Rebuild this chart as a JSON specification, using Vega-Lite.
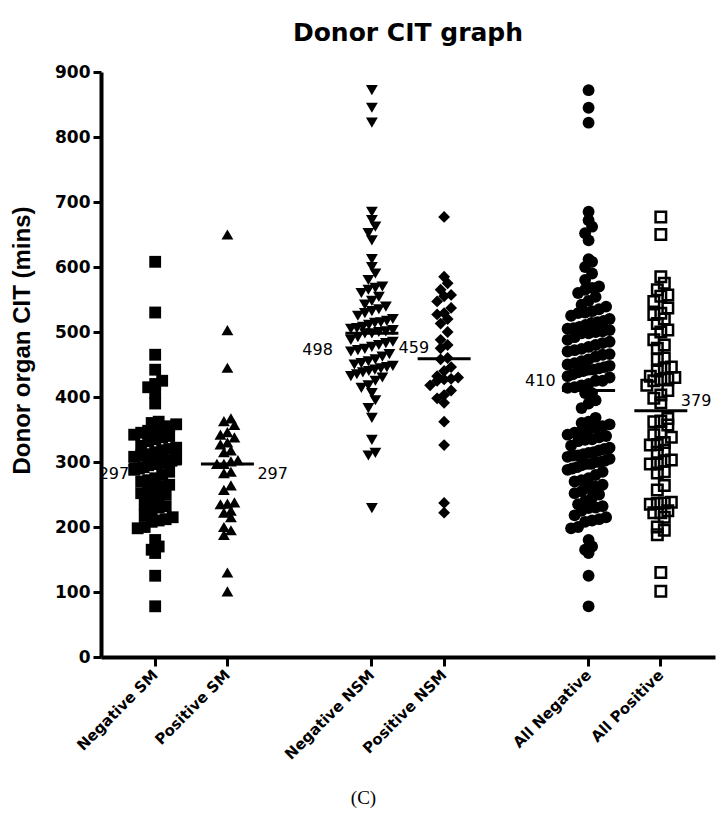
{
  "$schema": "https://vega.github.io/schema/vega-lite/v6.json",
  "width": 614,
  "height": 585,
  "autosize": "none",
  "padding": {"left": 101, "top": 72, "right": 12, "bottom": 180},
  "background": "white",
  "config": {"view": {"stroke": null}, "axis": {"grid": false}},
  "title": {"text": "Donor CIT graph", "font": "DejaVu Sans", "fontSize": 25, "fontWeight": "bold", "anchor": "middle", "offset": 17, "color": "black"},
  "datasets": {
    "pts": [
      {"g":"Negative SM","v":608},{"g":"Negative SM","v":530},{"g":"Negative SM","v":465},{"g":"Negative SM","v":442},{"g":"Negative SM","v":425},{"g":"Negative SM","v":420},{"g":"Negative SM","v":415},{"g":"Negative SM","v":406},{"g":"Negative SM","v":390},
      {"g":"Negative SM","v":362},{"g":"Negative SM","v":360},{"g":"Negative SM","v":358},{"g":"Negative SM","v":355},{"g":"Negative SM","v":352},{"g":"Negative SM","v":350},{"g":"Negative SM","v":348},{"g":"Negative SM","v":345},
      {"g":"Negative SM","v":342},{"g":"Negative SM","v":340},{"g":"Negative SM","v":338},{"g":"Negative SM","v":335},{"g":"Negative SM","v":332},
      {"g":"Negative SM","v":325},{"g":"Negative SM","v":322},{"g":"Negative SM","v":320},{"g":"Negative SM","v":318},{"g":"Negative SM","v":315},{"g":"Negative SM","v":312},
      {"g":"Negative SM","v":310},{"g":"Negative SM","v":308},{"g":"Negative SM","v":305},{"g":"Negative SM","v":302},{"g":"Negative SM","v":300},{"g":"Negative SM","v":300},{"g":"Negative SM","v":297},
      {"g":"Negative SM","v":297},{"g":"Negative SM","v":295},{"g":"Negative SM","v":292},{"g":"Negative SM","v":290},{"g":"Negative SM","v":288},{"g":"Negative SM","v":285},{"g":"Negative SM","v":280},
      {"g":"Negative SM","v":275},{"g":"Negative SM","v":272},{"g":"Negative SM","v":270},{"g":"Negative SM","v":265},{"g":"Negative SM","v":262},{"g":"Negative SM","v":260},
      {"g":"Negative SM","v":255},{"g":"Negative SM","v":252},{"g":"Negative SM","v":250},{"g":"Negative SM","v":245},
      {"g":"Negative SM","v":240},{"g":"Negative SM","v":235},{"g":"Negative SM","v":232},{"g":"Negative SM","v":230},{"g":"Negative SM","v":225},
      {"g":"Negative SM","v":218},{"g":"Negative SM","v":215},{"g":"Negative SM","v":212},{"g":"Negative SM","v":210},{"g":"Negative SM","v":208},
      {"g":"Negative SM","v":200},{"g":"Negative SM","v":198},{"g":"Negative SM","v":180},{"g":"Negative SM","v":170},{"g":"Negative SM","v":165},{"g":"Negative SM","v":160},{"g":"Negative SM","v":125},{"g":"Negative SM","v":78},

      {"g":"Positive SM","v":650},{"g":"Positive SM","v":503},{"g":"Positive SM","v":445},{"g":"Positive SM","v":367},{"g":"Positive SM","v":363},{"g":"Positive SM","v":357},{"g":"Positive SM","v":346},{"g":"Positive SM","v":342},
      {"g":"Positive SM","v":338},{"g":"Positive SM","v":330},{"g":"Positive SM","v":327},{"g":"Positive SM","v":318},{"g":"Positive SM","v":315},{"g":"Positive SM","v":303},{"g":"Positive SM","v":301},{"g":"Positive SM","v":297},
      {"g":"Positive SM","v":297},{"g":"Positive SM","v":285},{"g":"Positive SM","v":283},{"g":"Positive SM","v":264},{"g":"Positive SM","v":257},{"g":"Positive SM","v":238},{"g":"Positive SM","v":236},{"g":"Positive SM","v":235},
      {"g":"Positive SM","v":225},{"g":"Positive SM","v":222},{"g":"Positive SM","v":215},{"g":"Positive SM","v":200},{"g":"Positive SM","v":195},{"g":"Positive SM","v":188},{"g":"Positive SM","v":130},{"g":"Positive SM","v":101},

      {"g":"Negative NSM","v":872},{"g":"Negative NSM","v":845},{"g":"Negative NSM","v":822},{"g":"Negative NSM","v":685},{"g":"Negative NSM","v":672},{"g":"Negative NSM","v":662},{"g":"Negative NSM","v":652},{"g":"Negative NSM","v":641},
      {"g":"Negative NSM","v":612},{"g":"Negative NSM","v":600},{"g":"Negative NSM","v":590},{"g":"Negative NSM","v":580},{"g":"Negative NSM","v":570},{"g":"Negative NSM","v":568},{"g":"Negative NSM","v":565},{"g":"Negative NSM","v":560},
      {"g":"Negative NSM","v":554},{"g":"Negative NSM","v":548},{"g":"Negative NSM","v":542},{"g":"Negative NSM","v":539},{"g":"Negative NSM","v":535},{"g":"Negative NSM","v":532},{"g":"Negative NSM","v":529},{"g":"Negative NSM","v":525},
      {"g":"Negative NSM","v":520},{"g":"Negative NSM","v":517},{"g":"Negative NSM","v":515},{"g":"Negative NSM","v":514},{"g":"Negative NSM","v":511},{"g":"Negative NSM","v":508},{"g":"Negative NSM","v":506},{"g":"Negative NSM","v":505},
      {"g":"Negative NSM","v":503},{"g":"Negative NSM","v":501},{"g":"Negative NSM","v":500},{"g":"Negative NSM","v":498},{"g":"Negative NSM","v":498},{"g":"Negative NSM","v":492},{"g":"Negative NSM","v":488},{"g":"Negative NSM","v":485},
      {"g":"Negative NSM","v":483},{"g":"Negative NSM","v":480},{"g":"Negative NSM","v":477},{"g":"Negative NSM","v":474},{"g":"Negative NSM","v":472},{"g":"Negative NSM","v":470},{"g":"Negative NSM","v":466},{"g":"Negative NSM","v":462},
      {"g":"Negative NSM","v":458},{"g":"Negative NSM","v":455},{"g":"Negative NSM","v":452},{"g":"Negative NSM","v":450},{"g":"Negative NSM","v":448},{"g":"Negative NSM","v":446},{"g":"Negative NSM","v":444},{"g":"Negative NSM","v":442},
      {"g":"Negative NSM","v":440},{"g":"Negative NSM","v":438},{"g":"Negative NSM","v":435},{"g":"Negative NSM","v":432},{"g":"Negative NSM","v":430},{"g":"Negative NSM","v":425},{"g":"Negative NSM","v":418},{"g":"Negative NSM","v":414},
      {"g":"Negative NSM","v":406},{"g":"Negative NSM","v":395},{"g":"Negative NSM","v":383},{"g":"Negative NSM","v":368},{"g":"Negative NSM","v":334},{"g":"Negative NSM","v":314},{"g":"Negative NSM","v":310},{"g":"Negative NSM","v":229},

      {"g":"Positive NSM","v":677},{"g":"Positive NSM","v":585},{"g":"Positive NSM","v":575},{"g":"Positive NSM","v":565},{"g":"Positive NSM","v":557},{"g":"Positive NSM","v":555},{"g":"Positive NSM","v":547},{"g":"Positive NSM","v":537},
      {"g":"Positive NSM","v":529},{"g":"Positive NSM","v":527},{"g":"Positive NSM","v":520},{"g":"Positive NSM","v":513},{"g":"Positive NSM","v":500},{"g":"Positive NSM","v":488},{"g":"Positive NSM","v":480},{"g":"Positive NSM","v":475},
      {"g":"Positive NSM","v":460},{"g":"Positive NSM","v":458},{"g":"Positive NSM","v":446},{"g":"Positive NSM","v":440},{"g":"Positive NSM","v":432},{"g":"Positive NSM","v":430},{"g":"Positive NSM","v":428},{"g":"Positive NSM","v":427},
      {"g":"Positive NSM","v":425},{"g":"Positive NSM","v":418},{"g":"Positive NSM","v":410},{"g":"Positive NSM","v":403},{"g":"Positive NSM","v":398},{"g":"Positive NSM","v":391},{"g":"Positive NSM","v":362},{"g":"Positive NSM","v":326},
      {"g":"Positive NSM","v":237},{"g":"Positive NSM","v":222},

      {"g":"All Negative","v":608},{"g":"All Negative","v":530},{"g":"All Negative","v":465},{"g":"All Negative","v":442},{"g":"All Negative","v":425},{"g":"All Negative","v":420},{"g":"All Negative","v":415},{"g":"All Negative","v":406},{"g":"All Negative","v":390},
      {"g":"All Negative","v":362},{"g":"All Negative","v":360},{"g":"All Negative","v":358},{"g":"All Negative","v":355},{"g":"All Negative","v":352},{"g":"All Negative","v":350},{"g":"All Negative","v":348},{"g":"All Negative","v":345},
      {"g":"All Negative","v":342},{"g":"All Negative","v":340},{"g":"All Negative","v":338},{"g":"All Negative","v":335},{"g":"All Negative","v":332},
      {"g":"All Negative","v":325},{"g":"All Negative","v":322},{"g":"All Negative","v":320},{"g":"All Negative","v":318},{"g":"All Negative","v":315},{"g":"All Negative","v":312},
      {"g":"All Negative","v":310},{"g":"All Negative","v":308},{"g":"All Negative","v":305},{"g":"All Negative","v":302},{"g":"All Negative","v":300},{"g":"All Negative","v":300},{"g":"All Negative","v":297},
      {"g":"All Negative","v":297},{"g":"All Negative","v":295},{"g":"All Negative","v":292},{"g":"All Negative","v":290},{"g":"All Negative","v":288},{"g":"All Negative","v":285},{"g":"All Negative","v":280},
      {"g":"All Negative","v":275},{"g":"All Negative","v":272},{"g":"All Negative","v":270},{"g":"All Negative","v":265},{"g":"All Negative","v":262},{"g":"All Negative","v":260},
      {"g":"All Negative","v":255},{"g":"All Negative","v":252},{"g":"All Negative","v":250},{"g":"All Negative","v":245},
      {"g":"All Negative","v":240},{"g":"All Negative","v":235},{"g":"All Negative","v":232},{"g":"All Negative","v":230},{"g":"All Negative","v":225},
      {"g":"All Negative","v":218},{"g":"All Negative","v":215},{"g":"All Negative","v":212},{"g":"All Negative","v":210},{"g":"All Negative","v":208},
      {"g":"All Negative","v":200},{"g":"All Negative","v":198},{"g":"All Negative","v":180},{"g":"All Negative","v":170},{"g":"All Negative","v":165},{"g":"All Negative","v":160},{"g":"All Negative","v":125},{"g":"All Negative","v":78},
      {"g":"All Negative","v":872},{"g":"All Negative","v":845},{"g":"All Negative","v":822},{"g":"All Negative","v":685},{"g":"All Negative","v":672},{"g":"All Negative","v":662},{"g":"All Negative","v":652},{"g":"All Negative","v":641},
      {"g":"All Negative","v":612},{"g":"All Negative","v":600},{"g":"All Negative","v":590},{"g":"All Negative","v":580},{"g":"All Negative","v":570},{"g":"All Negative","v":568},{"g":"All Negative","v":565},{"g":"All Negative","v":560},
      {"g":"All Negative","v":554},{"g":"All Negative","v":548},{"g":"All Negative","v":542},{"g":"All Negative","v":539},{"g":"All Negative","v":535},{"g":"All Negative","v":532},{"g":"All Negative","v":529},{"g":"All Negative","v":525},
      {"g":"All Negative","v":520},{"g":"All Negative","v":517},{"g":"All Negative","v":515},{"g":"All Negative","v":514},{"g":"All Negative","v":511},{"g":"All Negative","v":508},{"g":"All Negative","v":506},{"g":"All Negative","v":505},
      {"g":"All Negative","v":503},{"g":"All Negative","v":501},{"g":"All Negative","v":500},{"g":"All Negative","v":498},{"g":"All Negative","v":498},{"g":"All Negative","v":492},{"g":"All Negative","v":488},{"g":"All Negative","v":485},
      {"g":"All Negative","v":483},{"g":"All Negative","v":480},{"g":"All Negative","v":477},{"g":"All Negative","v":474},{"g":"All Negative","v":472},{"g":"All Negative","v":470},{"g":"All Negative","v":466},{"g":"All Negative","v":462},
      {"g":"All Negative","v":458},{"g":"All Negative","v":455},{"g":"All Negative","v":452},{"g":"All Negative","v":450},{"g":"All Negative","v":448},{"g":"All Negative","v":446},{"g":"All Negative","v":444},{"g":"All Negative","v":442},
      {"g":"All Negative","v":440},{"g":"All Negative","v":438},{"g":"All Negative","v":435},{"g":"All Negative","v":432},{"g":"All Negative","v":430},{"g":"All Negative","v":425},{"g":"All Negative","v":418},{"g":"All Negative","v":414},
      {"g":"All Negative","v":406},{"g":"All Negative","v":395},{"g":"All Negative","v":383},{"g":"All Negative","v":368},{"g":"All Negative","v":334},{"g":"All Negative","v":314},{"g":"All Negative","v":310},{"g":"All Negative","v":229},

      {"g":"All Positive","v":650},{"g":"All Positive","v":503},{"g":"All Positive","v":445},{"g":"All Positive","v":367},{"g":"All Positive","v":363},{"g":"All Positive","v":357},{"g":"All Positive","v":346},{"g":"All Positive","v":342},
      {"g":"All Positive","v":338},{"g":"All Positive","v":330},{"g":"All Positive","v":327},{"g":"All Positive","v":318},{"g":"All Positive","v":315},{"g":"All Positive","v":303},{"g":"All Positive","v":301},{"g":"All Positive","v":297},
      {"g":"All Positive","v":297},{"g":"All Positive","v":285},{"g":"All Positive","v":283},{"g":"All Positive","v":264},{"g":"All Positive","v":257},{"g":"All Positive","v":238},{"g":"All Positive","v":236},{"g":"All Positive","v":235},
      {"g":"All Positive","v":225},{"g":"All Positive","v":222},{"g":"All Positive","v":215},{"g":"All Positive","v":200},{"g":"All Positive","v":195},{"g":"All Positive","v":188},{"g":"All Positive","v":130},{"g":"All Positive","v":101},
      {"g":"All Positive","v":677},{"g":"All Positive","v":585},{"g":"All Positive","v":575},{"g":"All Positive","v":565},{"g":"All Positive","v":557},{"g":"All Positive","v":555},{"g":"All Positive","v":547},{"g":"All Positive","v":537},
      {"g":"All Positive","v":529},{"g":"All Positive","v":527},{"g":"All Positive","v":520},{"g":"All Positive","v":513},{"g":"All Positive","v":500},{"g":"All Positive","v":488},{"g":"All Positive","v":480},{"g":"All Positive","v":475},
      {"g":"All Positive","v":460},{"g":"All Positive","v":458},{"g":"All Positive","v":446},{"g":"All Positive","v":440},{"g":"All Positive","v":432},{"g":"All Positive","v":430},{"g":"All Positive","v":428},{"g":"All Positive","v":427},
      {"g":"All Positive","v":425},{"g":"All Positive","v":418},{"g":"All Positive","v":410},{"g":"All Positive","v":403},{"g":"All Positive","v":398},{"g":"All Positive","v":391},{"g":"All Positive","v":362},{"g":"All Positive","v":326},
      {"g":"All Positive","v":237},{"g":"All Positive","v":222}
    ],
    "med": [
      {"g":"Negative SM","v":297},
      {"g":"Positive SM","v":297},
      {"g":"Negative NSM","v":498},
      {"g":"Positive NSM","v":459},
      {"g":"All Negative","v":410},
      {"g":"All Positive","v":379}
    ]
  },
  "encoding": {
    "x": {
      "field": "g", "type": "nominal",
      "scale": {"type": "band", "domain": ["Negative SM","Positive SM","gap1","Negative NSM","Positive NSM","gap2","All Negative","All Positive"], "paddingInner": 0, "paddingOuter": 0.25},
      "axis": {
        "values": ["Negative SM","Positive SM","Negative NSM","Positive NSM","All Negative","All Positive"],
        "title": "(C)",
        "domainColor": "black", "domainWidth": 4,
        "tickColor": "black", "tickWidth": 3, "tickSize": 9,
        "labelAngle": -45, "labelAlign": "right", "labelBaseline": "middle",
        "labelFont": "DejaVu Sans", "labelFontWeight": "bold", "labelFontSize": 15, "labelColor": "black",
        "labelPadding": 6, "labelLimit": 0, "labelOverlap": false,
        "titleFont": "Liberation Serif", "titleFontSize": 19, "titleFontWeight": "normal", "titleColor": "black",
        "titleX": 262, "titleY": 140, "titleAlign": "center", "titleBaseline": "middle"
      }
    },
    "y": {
      "field": "v", "type": "quantitative",
      "scale": {"domain": [0, 900], "nice": false},
      "axis": {
        "title": "Donor organ CIT (mins)",
        "values": [0,100,200,300,400,500,600,700,800,900],
        "domainColor": "black", "domainWidth": 4,
        "tickColor": "black", "tickWidth": 3, "tickSize": 8,
        "labelFont": "DejaVu Sans", "labelFontWeight": "bold", "labelFontSize": 17, "labelColor": "black", "labelPadding": 3,
        "titleFont": "Liberation Sans", "titleFontWeight": "bold", "titleFontSize": 24, "titleColor": "black",
        "titleAngle": -90, "titleX": -79, "titleY": 268, "titleAlign": "center", "titleBaseline": "middle"
      }
    }
  },
  "layer": [
    {
      "data": {"name": "pts"},
      "transform": [
        {"filter": "datum.g != 'All Positive'"},
        {"bin": {"step": 18}, "field": "v", "as": "b"},
        {"joinaggregate": [{"op": "count", "as": "n"}], "groupby": ["g", "b"]},
        {"window": [{"op": "row_number", "as": "k"}], "groupby": ["g", "b"], "sort": [{"field": "v", "order": "ascending"}]},
        {"calculate": "(datum.k - (datum.n + 1) / 2) * (datum.n > 7 ? 6 / (datum.n - 1) : 1)", "as": "off"}
      ],
      "mark": {"type": "point", "filled": true, "color": "black", "opacity": 1, "size": 140},
      "encoding": {
        "xOffset": {"field": "off", "type": "quantitative", "scale": {"domain": [-5, 5], "range": [1.12, 71.12]}},
        "shape": {"field": "g", "type": "nominal", "scale": {"domain": ["Negative SM","Positive SM","Negative NSM","Positive NSM","All Negative"], "range": ["square","triangle-up","triangle-down","diamond","circle"]}, "legend": null}
      }
    },
    {
      "data": {"name": "pts"},
      "transform": [
        {"filter": "datum.g == 'All Positive'"},
        {"bin": {"step": 18}, "field": "v", "as": "b"},
        {"joinaggregate": [{"op": "count", "as": "n"}], "groupby": ["g", "b"]},
        {"window": [{"op": "row_number", "as": "k"}], "groupby": ["g", "b"], "sort": [{"field": "v", "order": "ascending"}]},
        {"calculate": "(datum.k - (datum.n + 1) / 2) * (datum.n > 7 ? 6 / (datum.n - 1) : 1)", "as": "off"}
      ],
      "mark": {"type": "point", "shape": "square", "filled": false, "color": "black", "opacity": 1, "strokeWidth": 2.5, "size": 110},
      "encoding": {
        "xOffset": {"field": "off", "type": "quantitative", "scale": {"domain": [-5, 5], "range": [1.12, 71.12]}}
      }
    },
    {
      "data": {"name": "med"},
      "mark": {"type": "tick", "color": "black", "thickness": 3, "size": 53, "orient": "horizontal", "opacity": 1}
    },
    {
      "data": {"name": "med"},
      "transform": [{"filter": "datum.g == 'Negative SM'"}],
      "mark": {"type": "text", "font": "DejaVu Sans", "fontSize": 16, "color": "black", "align": "right", "baseline": "middle", "dx": -26, "dy": 10},
      "encoding": {"text": {"field": "v", "type": "quantitative"}}
    },
    {
      "data": {"name": "med"},
      "transform": [{"filter": "datum.g == 'Positive SM'"}],
      "mark": {"type": "text", "font": "DejaVu Sans", "fontSize": 16, "color": "black", "align": "left", "baseline": "middle", "dx": 30, "dy": 10},
      "encoding": {"text": {"field": "v", "type": "quantitative"}}
    },
    {
      "data": {"name": "med"},
      "transform": [{"filter": "datum.g == 'Negative NSM'"}],
      "mark": {"type": "text", "font": "DejaVu Sans", "fontSize": 16, "color": "black", "align": "right", "baseline": "middle", "dx": -39, "dy": 17},
      "encoding": {"text": {"field": "v", "type": "quantitative"}}
    },
    {
      "data": {"name": "med"},
      "transform": [{"filter": "datum.g == 'Positive NSM'"}],
      "mark": {"type": "text", "font": "DejaVu Sans", "fontSize": 16, "color": "black", "align": "right", "baseline": "middle", "dx": -15, "dy": -11},
      "encoding": {"text": {"field": "v", "type": "quantitative"}}
    },
    {
      "data": {"name": "med"},
      "transform": [{"filter": "datum.g == 'All Negative'"}],
      "mark": {"type": "text", "font": "DejaVu Sans", "fontSize": 16, "color": "black", "align": "right", "baseline": "middle", "dx": -33, "dy": -10},
      "encoding": {"text": {"field": "v", "type": "quantitative"}}
    },
    {
      "data": {"name": "med"},
      "transform": [{"filter": "datum.g == 'All Positive'"}],
      "mark": {"type": "text", "font": "DejaVu Sans", "fontSize": 16, "color": "black", "align": "left", "baseline": "middle", "dx": 20, "dy": -10},
      "encoding": {"text": {"field": "v", "type": "quantitative"}}
    }
  ]
}
